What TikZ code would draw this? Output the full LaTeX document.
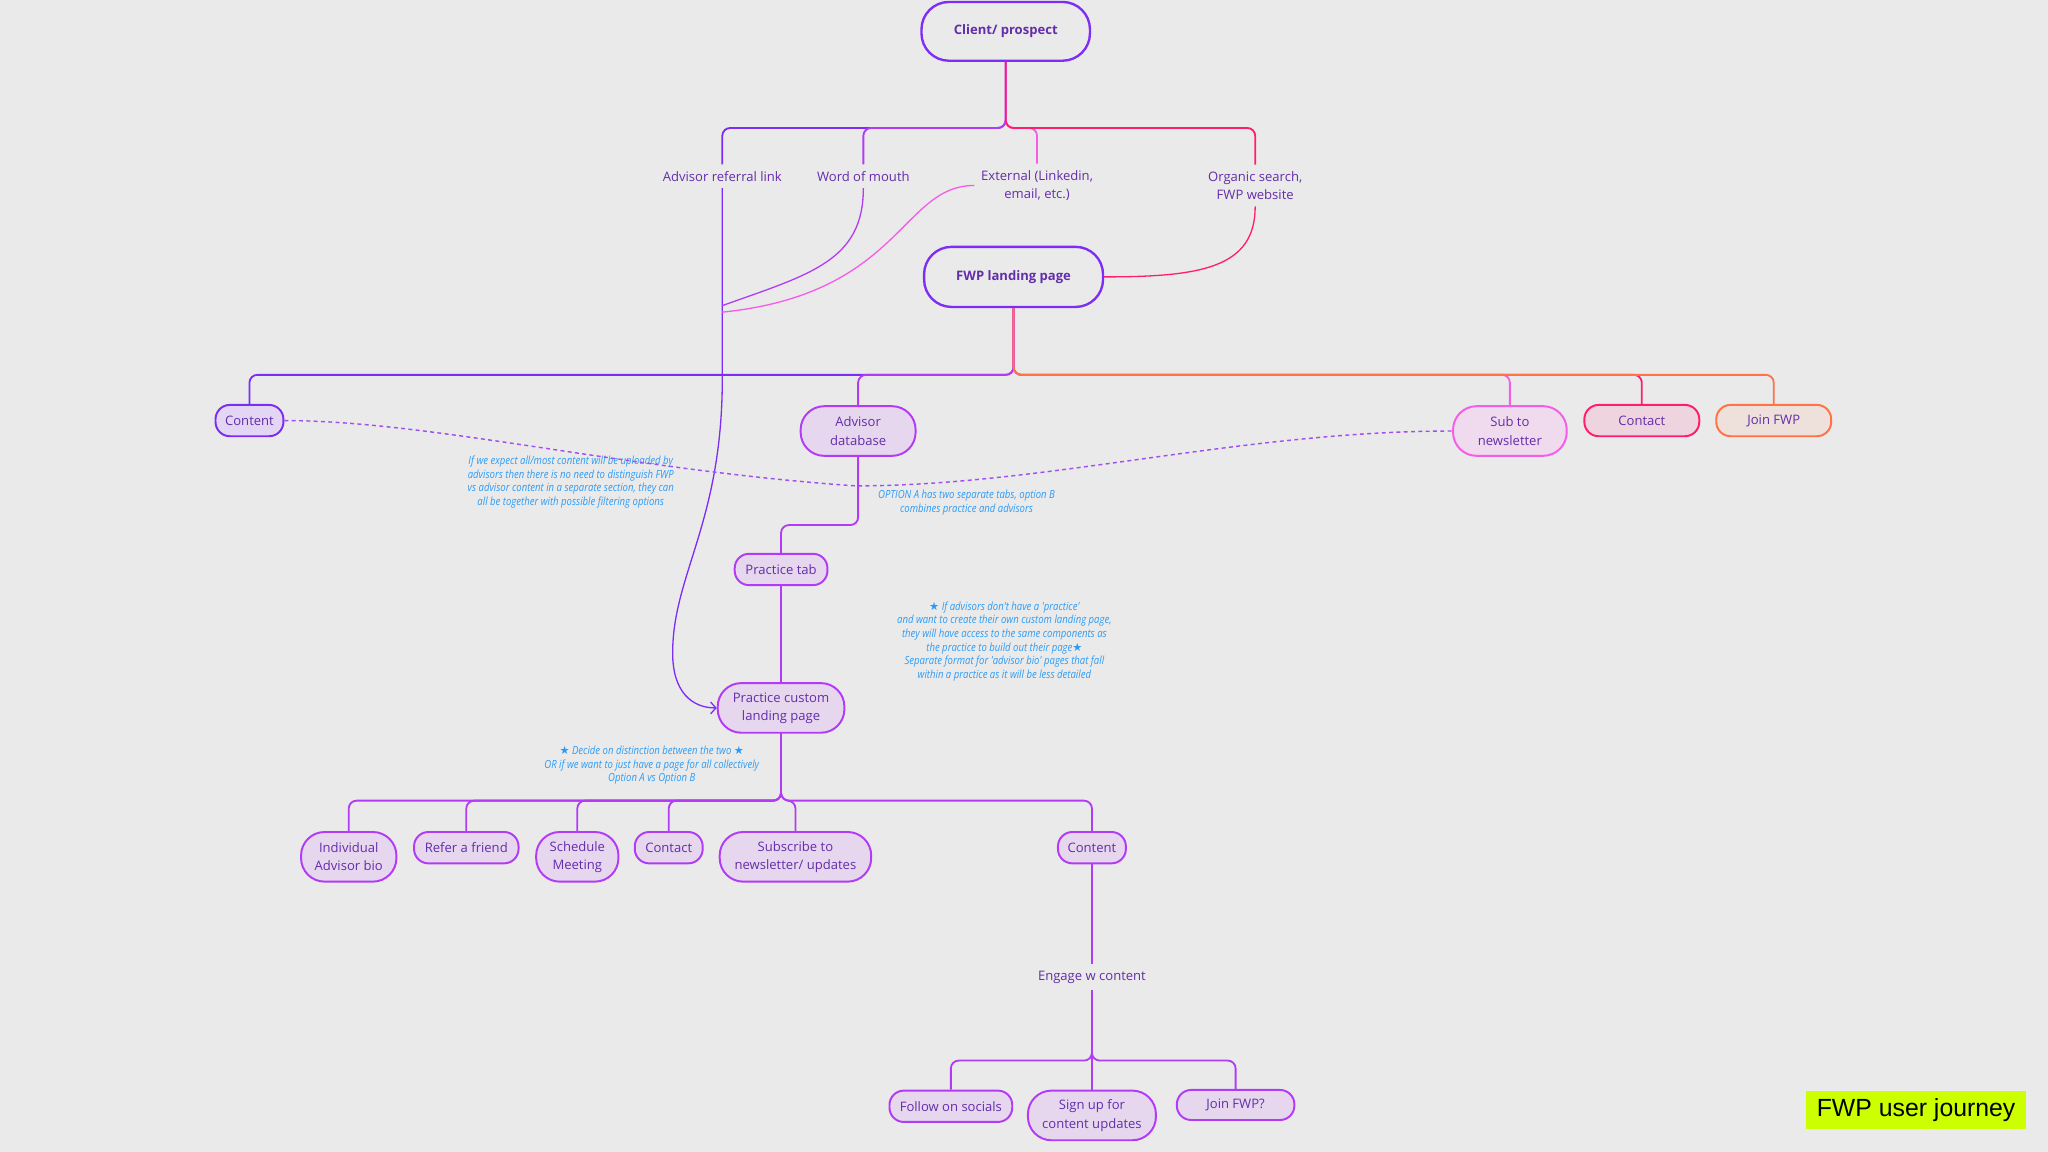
\documentclass[tikz,border=0pt]{standalone}
\usepackage{fontspec}
\setmainfont{Open Sans}
\newfontfamily\notefont{Open Sans}[FakeStretch=0.85]
\newfontfamily\symfont{DejaVu Sans}
\newfontfamily\titlefont{Liberation Sans}
\usetikzlibrary{arrows.meta}

\definecolor{bgcol}{RGB}{234,234,234}
\definecolor{txtpurple}{RGB}{100,45,170}
\definecolor{cviolet}{RGB}{125,45,245}
\definecolor{cpurple}{RGB}{178,60,245}
\definecolor{cpink}{RGB}{245,92,232}
\definecolor{cred}{RGB}{255,30,110}
\definecolor{corange}{RGB}{255,115,70}
\definecolor{fviolet}{RGB}{227,214,245}
\definecolor{fpurple}{RGB}{230,215,238}
\definecolor{fpink}{RGB}{240,218,238}
\definecolor{fred}{RGB}{238,212,222}
\definecolor{forange}{RGB}{238,224,218}
\definecolor{cnote}{RGB}{45,155,245}
\definecolor{cdash}{RGB}{160,80,240}
\definecolor{clime}{RGB}{204,255,0}

\newcommand{\starmark}{{\symfont ★}}

\begin{document}
\begin{tikzpicture}[x=1pt,y=-1pt]
    % Background and page size
    \fill[bgcol] (0,0) rectangle (1568,882);
    \useasboundingbox (0,0) rectangle (1568,882);

    % Styles
    \tikzset{
        pill/.style={rectangle, draw, line width=1.5pt, rounded corners=11pt, inner sep=0pt,
            minimum height=24pt, align=center, text=txtpurple,
            font=\fontsize{10}{14}\selectfont},
        pilltall/.style={pill, rounded corners=18pt, minimum height=38pt},
        hub/.style={pill, draw=cviolet, line width=1.8pt, rounded corners=21pt,
            font=\fontsize{10}{14}\selectfont\bfseries},
        src/.style={inner sep=5pt, align=center, text=txtpurple,
            font=\fontsize{10}{14}\selectfont},
        note/.style={align=center, text=cnote, inner sep=0pt,
            font=\notefont\itshape\fontsize{8.6}{10.4}\selectfont},
        br/.style={line width=1.4pt, rounded corners=6pt},
        lnk/.style={line width=1pt},
        dashline/.style={line width=1.1pt, cdash, dash pattern=on 3pt off 2.6pt}
    }

    % Junction points of the tree
    \coordinate (jtop) at (770,98);
    \coordinate (jland) at (776,287);
    \coordinate (jdb) at (657,402);
    \coordinate (jpc) at (598,613);
    \coordinate (jeng) at (836,812);
    \coordinate (bend) at (553,290);
    \coordinate (mwom) at (553,234);
    \coordinate (mext) at (553,239);

    % Client and sources
    \node[hub, minimum width=129pt, minimum height=45pt] (client) at (770,24) {Client/ prospect};
    \node[src] (refl) at (553,135) {Advisor referral link};
    \node[src] (wom) at (661,135) {Word of mouth};
    \node[src] (ext) at (794,142) {External (Linkedin,\\email, etc.)};
    \node[src] (org) at (961,142) {Organic search,\\FWP website};
    \node[hub, minimum width=137pt, minimum height=46pt] (landing) at (776,212) {FWP landing page};

    % Landing page sections
    \node[pill, draw=cviolet, fill=fviolet, minimum width=52pt] (content) at (191,322) {Content};
    \node[pilltall, draw=cpurple, fill=fpurple, minimum width=88pt] (advdb) at (657,330) {Advisor\\database};
    \node[pilltall, draw=cpink, fill=fpink, minimum width=87pt] (subnews) at (1156,330) {Sub to\\newsletter};
    \node[pill, draw=cred, fill=fred, minimum width=88pt] (contact) at (1257,322) {Contact};
    \node[pill, draw=corange, fill=forange, minimum width=88pt] (join) at (1358,322) {Join FWP};

    % Practice chain
    \node[pill, draw=cpurple, fill=fpurple, minimum width=71pt] (ptab) at (598,436) {Practice tab};
    \node[pilltall, draw=cpurple, fill=fpurple, minimum width=97pt] (pcustom) at (598,542) {Practice custom\\landing page};
    \node[pilltall, draw=cpurple, fill=fpurple, minimum width=73pt] (bio) at (267,656) {Individual\\Advisor bio};
    \node[pill, draw=cpurple, fill=fpurple, minimum width=80pt] (refer) at (357,649) {Refer a friend};
    \node[pilltall, draw=cpurple, fill=fpurple, minimum width=63pt] (sched) at (442,656) {Schedule\\Meeting};
    \node[pill, draw=cpurple, fill=fpurple, minimum width=52pt] (pcontact) at (512,649) {Contact};
    \node[pilltall, draw=cpurple, fill=fpurple, minimum width=116pt] (subscr) at (609,656) {Subscribe to\\newsletter/ updates};
    \node[pill, draw=cpurple, fill=fpurple, minimum width=52pt] (pcontent) at (836,649) {Content};

    % Content engagement
    \node[src] (engage) at (836,748) {Engage w content};
    \node[pill, draw=cpurple, fill=fpurple, minimum width=94pt] (follow) at (728,847) {Follow on socials};
    \node[pilltall, draw=cpurple, fill=fpurple, minimum width=98pt] (signup) at (836,854) {Sign up for\\content updates};
    \node[pill, draw=cpurple, fill=fpurple, minimum width=90pt, minimum height=23pt] (joinq) at (946,846) {Join FWP?};

    % Notes
    \node[note] (note1) at (437,369) {If we expect all/most content will be uploaded by\\advisors then there is no need to distinguish FWP\\vs advisor content in a separate section, they can\\all be together with possible filtering options};
    \node[note] (note2) at (740,385) {OPTION A has two separate tabs, option B\\combines practice and advisors};
    \node[note] (note3) at (769,491) {\starmark\ If advisors don't have a 'practice'\\and want to create their own custom landing page,\\they will have access to the same components as\\the practice to build out their page\starmark\\Separate format for 'advisor bio' pages that fall\\within a practice as it will be less detailed};
    \node[note] (note4) at (499,586) {\starmark\ Decide on distinction between the two \starmark\\OR if we want to just have a page for all collectively\\Option A vs Option B};

    % Title tag
    \node[fill=clime, minimum width=168pt, minimum height=29pt, inner sep=0pt,
        font=\titlefont\fontsize{19}{21}\selectfont] (title) at (1467,850) {FWP user journey};

    % Branches from client
    \draw[br, cviolet] (client.south) -- (jtop) -| (refl.north);
    \draw[br, cpurple] (client.south) -- (jtop) -| (wom.north);
    \draw[br, cpink] (client.south) -- (jtop) -| (ext.north);
    \draw[br, cred] (client.south) -- (jtop) -| (org.north);

    % Sources into landing page / practice page
    \draw[lnk, cviolet, -{Straight Barb[length=4pt,width=9pt]}] (refl.south) -- (bend)
        .. controls (553,400) and (515,440) .. (515,500)
        .. controls (515,530) and (530,542) .. (pcustom.west);
    \draw[lnk, cpurple] (wom.south) .. controls (661,200) and (620,210) .. (mwom);
    \draw[lnk, cpink] (ext.west) .. controls (690,142) and (690,225) .. (mext);
    \draw[lnk, cred] (org.south) .. controls (961,205) and (920,212) .. (landing.east);

    % Branches from landing page
    \draw[br, cviolet] (landing.south) -- (jland) -| (content.north);
    \draw[br, cpurple] (landing.south) -- (jland) -| (advdb.north);
    \draw[br, cpink] (landing.south) -- (jland) -| (subnews.north);
    \draw[br, cred] (landing.south) -- (jland) -| (contact.north);
    \draw[br, corange] (landing.south) -- (jland) -| (join.north);

    % Dashed link content -- newsletter
    \draw[dashline] (content.east) .. controls (330,322) and (480,360) .. (655,372)
        .. controls (800,372) and (950,330) .. (subnews.west);

    % Practice branches
    \draw[br, cpurple] (advdb.south) -- (jdb) -| (ptab.north);
    \draw[br, cpurple] (ptab.south) -- (pcustom.north);
    \foreach \c in {bio,refer,sched,pcontact,subscr,pcontent} {
        \draw[br, cpurple] (pcustom.south) -- (jpc) -| (\c.north);
    }
    \draw[br, cpurple] (pcontent.south) -- (engage.north);
    \foreach \c in {follow,signup,joinq} {
        \draw[br, cpurple] (engage.south) -- (jeng) -| (\c.north);
    }
\end{tikzpicture}
\end{document}
